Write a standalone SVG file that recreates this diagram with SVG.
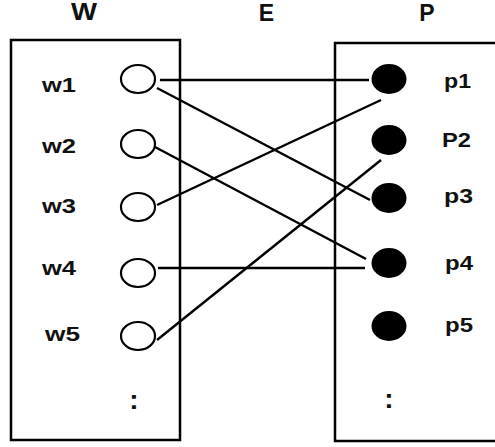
<svg xmlns="http://www.w3.org/2000/svg" width="495" height="447" viewBox="0 0 495 447">
<style>
.box{fill:none;stroke:#000;stroke-width:2.5}
.wn{fill:#fff;stroke:#000;stroke-width:2.2}
.pn{fill:#000}
.lbl{font-family:"Liberation Sans",Arial,sans-serif;font-weight:bold;font-size:21px;fill:#111}
.col{font-family:"Liberation Sans",Arial,sans-serif;font-weight:bold;font-size:28px;fill:#111;text-anchor:middle}
.hd{font-family:"Liberation Sans",Arial,sans-serif;font-weight:bold;font-size:23px;fill:#111;text-anchor:middle}
.edge{stroke:#000;stroke-width:2.4;fill:none}
</style>
<rect width="495" height="447" fill="#fff"/>
<text class="hd" x="84" y="20" textLength="26" lengthAdjust="spacingAndGlyphs">W</text>
<text class="hd" x="266.5" y="21">E</text>
<text class="hd" x="427" y="21">P</text>
<g id="W">
<rect class="box" x="11" y="40" width="169" height="400"/>
<text class="col" x="134" y="409">:</text>
</g>
<g id="P">
<rect class="box" x="335" y="43" width="170" height="398"/>
<text class="col" x="389" y="408">:</text>
</g>
<g id="connectors">
<line class="edge" x1="160" y1="80" x2="369" y2="80"/>
<line class="edge" x1="157" y1="88" x2="370" y2="200"/>
<line class="edge" x1="155" y1="147" x2="366" y2="259"/>
<line class="edge" x1="157" y1="205" x2="381" y2="100"/>
<line class="edge" x1="158" y1="268" x2="365" y2="268"/>
<line class="edge" x1="157" y1="340" x2="381" y2="160"/>
</g>
<g id="w1"><ellipse class="wn" cx="138" cy="79" rx="17" ry="14"/><text class="lbl" x="42" y="92" textLength="34" lengthAdjust="spacingAndGlyphs">w1</text></g>
<g id="w2"><ellipse class="wn" cx="138" cy="144" rx="17" ry="14"/><text class="lbl" x="42" y="153" textLength="34" lengthAdjust="spacingAndGlyphs">w2</text></g>
<g id="w3"><ellipse class="wn" cx="138" cy="207" rx="17" ry="14"/><text class="lbl" x="42" y="213" textLength="34" lengthAdjust="spacingAndGlyphs">w3</text></g>
<g id="w4"><ellipse class="wn" cx="138" cy="273" rx="17" ry="14"/><text class="lbl" x="42" y="275" textLength="34" lengthAdjust="spacingAndGlyphs">w4</text></g>
<g id="w5"><ellipse class="wn" cx="138" cy="336" rx="17" ry="14"/><text class="lbl" x="45" y="341" textLength="35" lengthAdjust="spacingAndGlyphs">w5</text></g>
<g id="p1"><ellipse class="pn" cx="389" cy="79" rx="17.5" ry="15"/><text class="lbl" x="444" y="88" textLength="27" lengthAdjust="spacingAndGlyphs">p1</text></g>
<g id="P2"><ellipse class="pn" cx="389" cy="140" rx="17.5" ry="15"/><text class="lbl" x="442" y="147" textLength="29" lengthAdjust="spacingAndGlyphs">P2</text></g>
<g id="p3"><ellipse class="pn" cx="389" cy="198" rx="17.5" ry="15"/><text class="lbl" x="444" y="203" textLength="29" lengthAdjust="spacingAndGlyphs">p3</text></g>
<g id="p4"><ellipse class="pn" cx="389" cy="263" rx="17.5" ry="15"/><text class="lbl" x="445" y="270" textLength="28" lengthAdjust="spacingAndGlyphs">p4</text></g>
<g id="p5"><ellipse class="pn" cx="389" cy="326" rx="17.5" ry="15"/><text class="lbl" x="445" y="332" textLength="28" lengthAdjust="spacingAndGlyphs">p5</text></g>
</svg>
